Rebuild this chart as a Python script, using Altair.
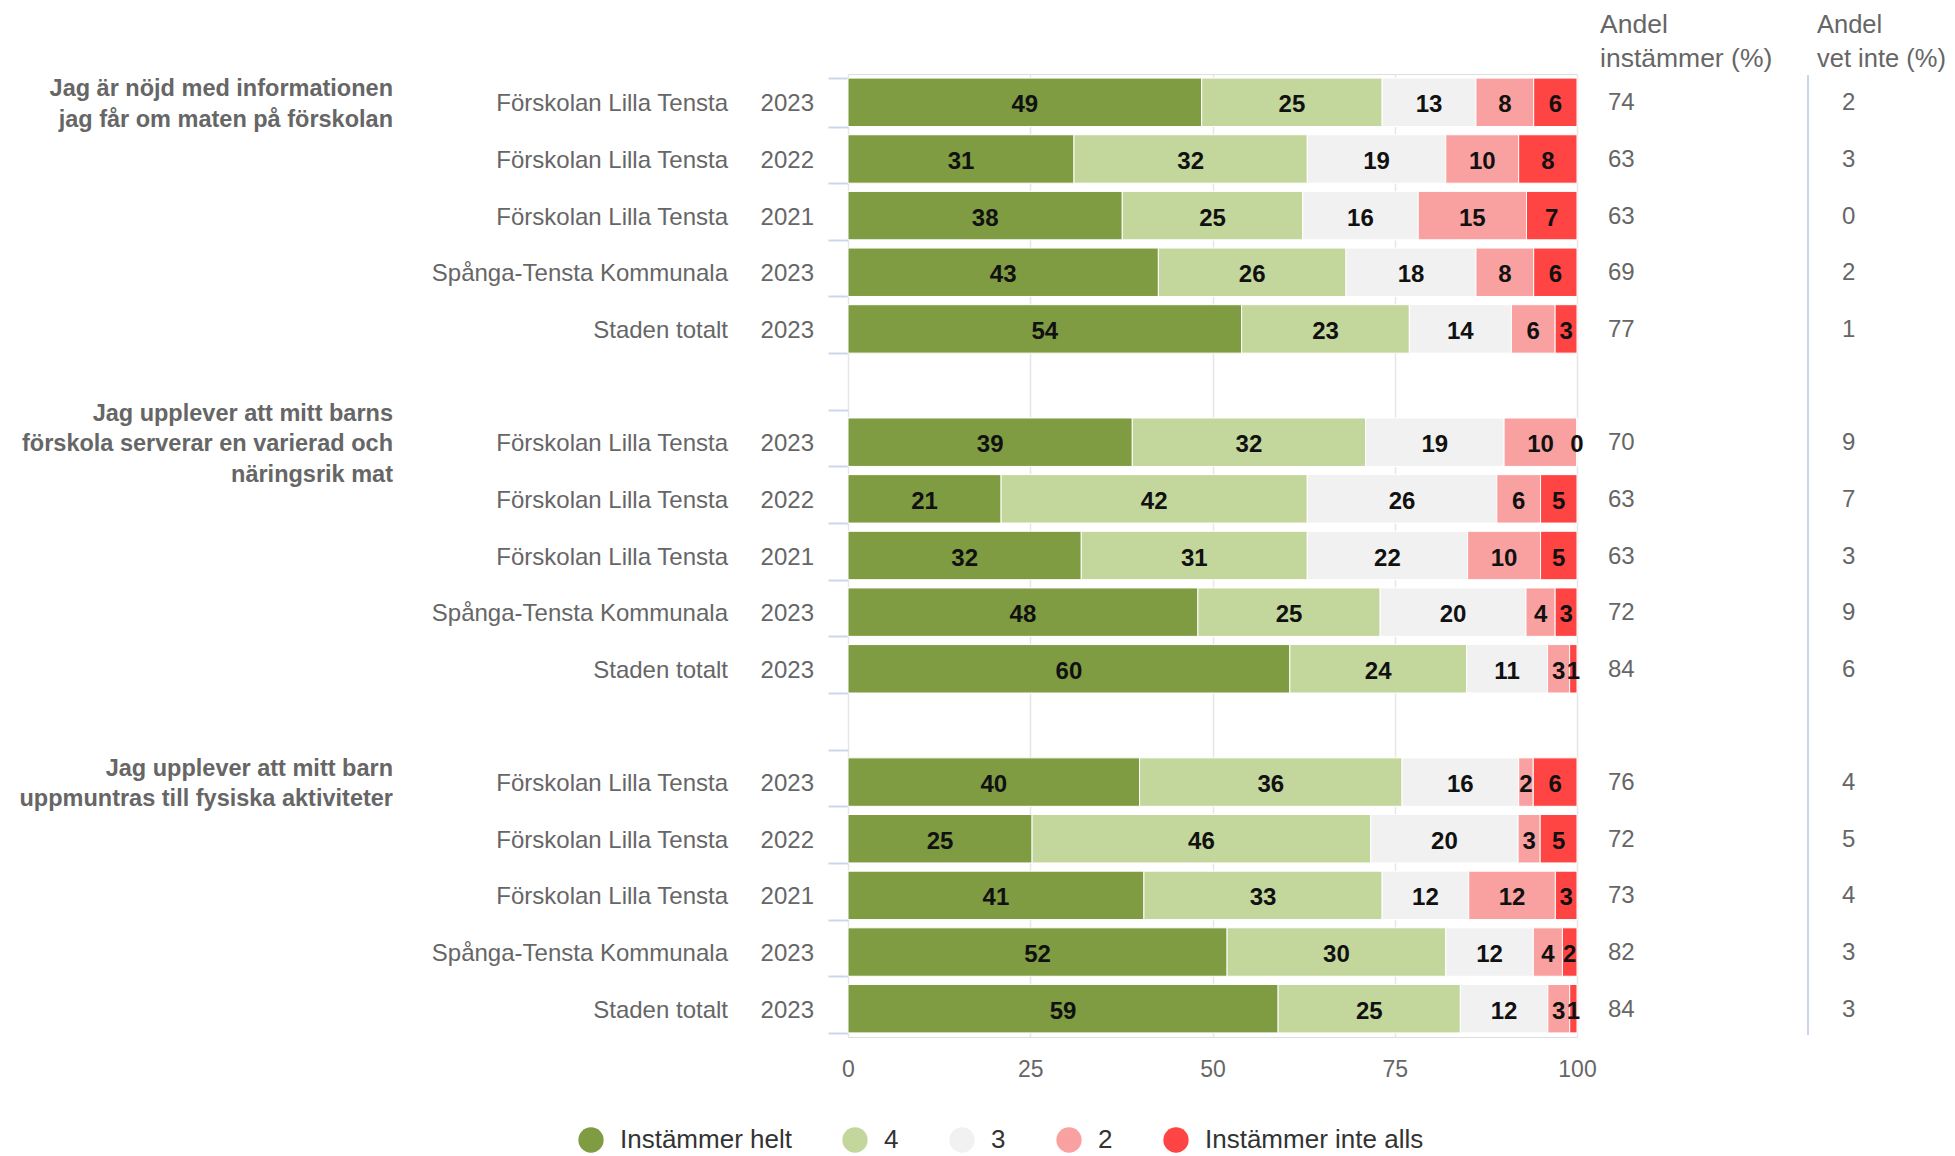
import altair as alt
import pandas as pd

questions = [
    "Jag är nöjd med informationen\njag får om maten på förskolan",
    "Jag upplever att mitt barns\nförskola serverar en varierad och\nnäringsrik mat",
    "Jag upplever att mitt barn\nuppmuntras till fysiska aktiviteter",
]
units = ["Förskolan Lilla Tensta", "Förskolan Lilla Tensta", "Förskolan Lilla Tensta",
         "Spånga-Tensta Kommunala", "Staden totalt"]
years = ["2023", "2022", "2021", "2023", "2023"]
categories = ["Instämmer helt", "4", "3", "2", "Instämmer inte alls"]
colors = ["#7f9c42", "#c3d69b", "#f1f1f1", "#f9a1a0", "#ff4444"]

helt = [[49, 31, 38, 43, 54], [39, 21, 32, 48, 60], [40, 25, 41, 52, 59]]
fyra = [[25, 32, 25, 26, 23], [32, 42, 31, 25, 24], [36, 46, 33, 30, 25]]
tre = [[13, 19, 16, 18, 14], [19, 26, 22, 20, 11], [16, 20, 12, 12, 12]]
tva = [[8, 10, 15, 8, 6], [10, 6, 10, 4, 3], [2, 3, 12, 4, 3]]
inte = [[6, 8, 7, 6, 3], [0, 5, 5, 3, 1], [6, 5, 3, 2, 1]]
andel = [[74, 63, 63, 69, 77], [70, 63, 63, 72, 84], [76, 72, 73, 82, 84]]
vetinte = [[2, 3, 0, 2, 1], [9, 7, 3, 9, 6], [4, 5, 4, 3, 3]]

header1 = "Andel\ninstämmer (%)"
header2 = "Andel\nvet inte (%)"

# ---- build tables ----
slot_domain = []
for g in range(3):
    for r in range(5):
        slot_domain.append(f"{g}-{r}")
    if g < 2:
        slot_domain.append(f"gap{g}")

series = [helt, fyra, tre, tva, inte]
bar_rows, row_rows = [], []
for g in range(3):
    for r in range(5):
        slot = f"{g}-{r}"
        row_rows.append({"slot": slot, "unit": units[r], "year": years[r],
                         "andel": andel[g][r], "vet": vetinte[g][r]})
        for k, cat in enumerate(categories):
            bar_rows.append({"slot": slot, "cat": cat, "order": k, "value": series[k][g][r]})

bars = pd.DataFrame(bar_rows)
rows = pd.DataFrame(row_rows)
heads = pd.DataFrame({"h1": [header1], "h2": [header2]})

FONT = "Liberation Sans"
GRAY = "#666666"

yscale = alt.Scale(domain=slot_domain, paddingInner=0.145, paddingOuter=0.0725)
xscale = alt.Scale(domain=[0, 1], nice=False)

xaxis = alt.Axis(values=[0, 0.25, 0.5, 0.75, 1], labelExpr="datum.value * 100",
                 domain=False, ticks=False, grid=True, gridColor="#e6e6e6",
                 gridWidth=1.5, labelFontSize=23, labelColor=GRAY, labelFont=FONT,
                 labelBaseline="middle", labelPadding=32, labelFlush=False, title=None)
yaxis = alt.Axis(labels=False, domain=False, ticks=True, tickBand="extent",
                 tickColor="#ccd6eb", tickWidth=2, tickSize=20, grid=False, title=None)

Y = alt.Y("slot:N", scale=yscale, axis=yaxis)

stacked = alt.Chart(bars).transform_stack(
    stack="value", groupby=["slot"], as_=["x0", "x1"], offset="normalize",
    sort=[alt.SortField("order", order="ascending")]
).transform_calculate(mid="(datum.x0 + datum.x1) / 2")

bar_layer = stacked.mark_bar(stroke="white", strokeWidth=1).encode(
    x=alt.X("x0:Q", scale=xscale, axis=xaxis),
    x2="x1:Q",
    y=Y,
    color=alt.Color("cat:N", scale=alt.Scale(domain=categories, range=colors),
                    legend=alt.Legend(title=None, orient="none", direction="horizontal",
                                      legendX=-270, legendY=1053, symbolType="circle",
                                      symbolSize=640, symbolStrokeWidth=0, labelFontSize=26,
                                      labelColor="#333333", labelFont=FONT, labelOffset=16,
                                      labelLimit=0, columnPadding=50, padding=0)),
    order=alt.Order("order:Q"),
)

bar_text = stacked.mark_text(fontSize=24, fontWeight="bold", color="#111111", font=FONT,
                             baseline="middle", dy=3).encode(
    x=alt.X("mid:Q", scale=xscale, axis=xaxis),
    y=Y,
    text=alt.Text("value:Q"),
)

q_layers = []
for g, q in enumerate(questions):
    n = len(q.split("\n"))
    qdf = pd.DataFrame({"slot": [f"{g}-0"], "text": [q]})
    q_layers.append(
        alt.Chart(qdf).mark_text(align="right", baseline="middle", fontSize=23.5,
                                 fontWeight="bold", color=GRAY, font=FONT,
                                 lineBreak="\n", lineHeight=30.5,
                                 dy=-(n - 1) * 15.25 + 2).encode(
            x=alt.value(-455), y=Y, text="text:N")
    )

unit_text = alt.Chart(rows).mark_text(align="right", baseline="middle", fontSize=24,
                                      color=GRAY, font=FONT, dy=2).encode(
    x=alt.value(-120), y=Y, text="unit:N")

year_text = alt.Chart(rows).mark_text(align="right", baseline="middle", fontSize=24,
                                      color=GRAY, font=FONT, dy=2).encode(
    x=alt.value(-34), y=Y, text="year:N")

andel_text = alt.Chart(rows).mark_text(align="left", baseline="middle", fontSize=24,
                                       color=GRAY, font=FONT, dy=1).encode(
    x=alt.value(760), y=Y, text="andel:Q")

vet_text = alt.Chart(rows).mark_text(align="left", baseline="middle", fontSize=24,
                                     color=GRAY, font=FONT, dy=1).encode(
    x=alt.value(994), y=Y, text="vet:Q")

h1_text = alt.Chart(heads).mark_text(align="left", baseline="alphabetic", fontSize=26.5,
                                     color=GRAY, font=FONT, lineBreak="\n",
                                     lineHeight=34).encode(
    x=alt.value(752), y=alt.value(-41), text="h1:N")

h2_text = alt.Chart(heads).mark_text(align="left", baseline="alphabetic", fontSize=25.5,
                                     color=GRAY, font=FONT, lineBreak="\n",
                                     lineHeight=34).encode(
    x=alt.value(969), y=alt.value(-41), text="h2:N")

sep = alt.Chart(heads).mark_rule(color="#ccd6eb", strokeWidth=2).encode(
    x=alt.value(960), y=alt.value(1), y2=alt.value(961))

chart = alt.layer(
    bar_layer, bar_text, *q_layers, unit_text, year_text, andel_text, vet_text,
    h1_text, h2_text, sep
).properties(
    width=729, height=963,
    padding={"left": 840, "top": 66, "right": 370, "bottom": 125},
    autosize=alt.AutoSizeParams(type="none"),
).configure_view(stroke=None).configure(font=FONT, background="white")

chart.save("out.html", embed_options={"renderer": "svg", "actions": False})
